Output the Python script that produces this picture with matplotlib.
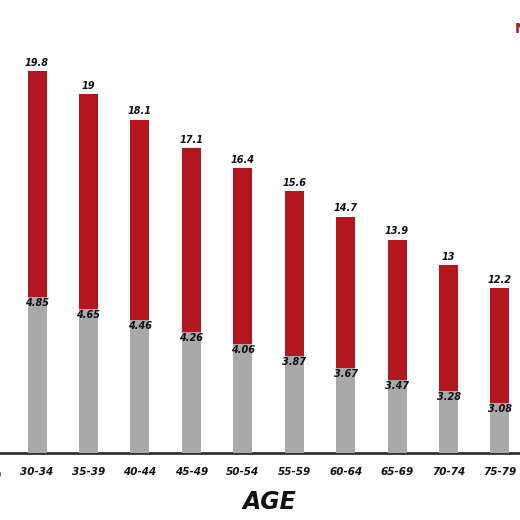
import matplotlib
matplotlib.use("Agg")
import matplotlib.pyplot as plt
import numpy as np

# age groups shown in the crop (25-29 is only partly visible at the left edge)
AGES = ["30-34", "35-39", "40-44", "45-49", "50-54",
        "55-59", "60-64", "65-69", "70-74", "75-79"]
RED_VALUES = [19.8, 19, 18.1, 17.1, 16.4, 15.6, 14.7, 13.9, 13, 12.2]
GRAY_VALUES = [4.85, 4.65, 4.46, 4.26, 4.06, 3.87, 3.67, 3.47, 3.28, 3.08]
CUT_LABEL = "25-29"

RED = "#b3161f"
GRAY = "#a9a9a9"
INK = "#111111"

fig = plt.figure(figsize=(5.2, 5.2), dpi=100)
ax = fig.add_axes([0.0, 0.1288, 1.0, 0.8327])
ax2 = ax.twinx()

x = np.arange(len(AGES))
w = 0.37

ax.bar(x, RED_VALUES, width=w, color=RED, zorder=2)
ax2.bar(x, GRAY_VALUES, width=w, color=GRAY, zorder=2)

ax.set_ylim(6.42, 21.59)
ax2.set_ylim(2.25, 9.47)
ax.set_xlim(-0.72, 9.39)

lab = dict(fontsize=7, fontweight="bold", fontstyle="italic", color=INK,
           ha="center", va="center")
for xi, v in zip(x, RED_VALUES):
    ax.annotate(f"{v:g}", (xi, v), xytext=(0, 6), textcoords="offset points", **lab)
for xi, v in zip(x, GRAY_VALUES):
    ax2.annotate(f"{v:g}", (xi, v), xytext=(0, -4.3), textcoords="offset points", **lab)

for a in (ax, ax2):
    for s in ("top", "left", "right"):
        a.spines[s].set_visible(False)
    a.set_yticks([])
ax.spines["bottom"].set_visible(True)
ax.spines["bottom"].set_color("#333333")
ax.spines["bottom"].set_linewidth(2)
ax2.spines["bottom"].set_visible(False)

ax.set_xticks(x)
ax.set_xticklabels(AGES, fontsize=7.5, fontweight="bold", fontstyle="italic", color=INK)
ax.tick_params(axis="x", length=0, pad=10)
ax.text(-1, -0.052, CUT_LABEL, transform=ax.get_xaxis_transform(), fontsize=7.5,
        fontweight="bold", fontstyle="italic", color=INK, ha="center", va="center",
        clip_on=False)

fig.text(0.519, 0.035, "AGE", fontsize=17, fontweight="bold", fontstyle="italic",
         color=INK, ha="center", va="center")
fig.text(0.99, 0.945, "N", fontsize=10, fontweight="bold", color=RED,
         ha="left", va="center")

fig.savefig("out.png", dpi=100, facecolor="white")
